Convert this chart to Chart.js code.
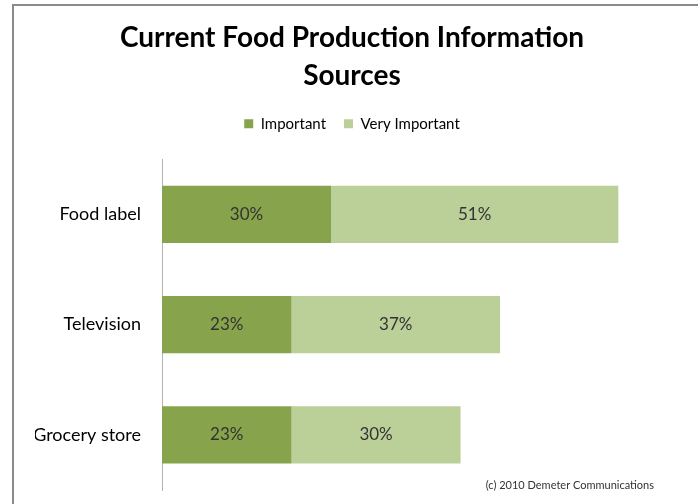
<!DOCTYPE html>
<html>
<head>
<meta charset="utf-8">
<script src="https://cdn.jsdelivr.net/npm/chart.js@4.4.0/dist/chart.umd.min.js"></script>
<style>
    html, body { margin: 0; padding: 0; background: #fff; }
    #frame {
        position: absolute; left: 12px; top: 4px; width: 800px; height: 600px;
        border-left: 2px solid #8a8a8a; border-top: 2px solid #8a8a8a;
    }
    #wrap { position: absolute; left: 0; top: 0; width: 698px; height: 504px; }
</style>
</head>
<body>
<div id="frame"></div>
<div id="wrap"><canvas id="myChart" width="698" height="504"></canvas></div>
<script>
// chart data
var categories = ["Food label", "Television", "Grocery store"];
var important = [30, 23, 23];
var veryImportant = [51, 37, 30];
var seriesNames = ["Important", "Very Important"];
var titleLines = ["Current Food Production Information", "Sources"];
var footerText = "(c) 2010 Demeter Communications";

var fontFamily = "Lato, 'Open Sans', sans-serif";

// draws the % numbers in the middle of each bar
var barLabels = {
    id: "barLabels",
    afterDatasetsDraw: function (chart) {
        var ctx = chart.ctx;
        ctx.save();
        ctx.font = "17px " + fontFamily;
        ctx.fillStyle = "#333333";
        ctx.textAlign = "center";
        ctx.textBaseline = "middle";
        chart.data.datasets.forEach(function (ds, i) {
            var meta = chart.getDatasetMeta(i);
            meta.data.forEach(function (bar, j) {
                ctx.fillText(ds.data[j] + "%", (bar.x + bar.base) / 2, bar.y);
            });
        });
        ctx.restore();
    }
};

// copyright line in the bottom right corner
var footer = {
    id: "footer",
    afterDraw: function (chart) {
        var ctx = chart.ctx;
        ctx.save();
        ctx.font = "11px " + fontFamily;
        ctx.fillStyle = "#333333";
        ctx.textAlign = "right";
        ctx.textBaseline = "middle";
        ctx.fillText(footerText, 654, 485);
        ctx.restore();
    }
};

// extra room under the legend
var legendGap = {
    id: "legendGap",
    beforeLayout: function (chart) {
        var lg = chart.legend;
        if (lg && !lg._patched) {
            var fit = lg.fit;
            lg.fit = function () {
                fit.call(this);
                this.height += 18;
            };
            lg._patched = true;
        }
    }
};

var ctx = document.getElementById("myChart").getContext("2d");
var myChart = new Chart(ctx, {
    type: "bar",
    data: {
        labels: categories,
        datasets: [{
            label: seriesNames[0],
            data: important,
            backgroundColor: "#87A44C"
        }, {
            label: seriesNames[1],
            data: veryImportant,
            backgroundColor: "#BBCF99"
        }]
    },
    options: {
        indexAxis: "y",
        responsive: false,
        animation: false,
        categoryPercentage: 1,
        barPercentage: 0.52,
        layout: { padding: { left: 35, right: 29, top: 0, bottom: 14 } },
        scales: {
            x: {
                stacked: true,
                display: false,
                min: 0,
                max: 90
            },
            y: {
                stacked: true,
                grid: { display: false },
                border: { display: true, color: "#b4b4b4", width: 1 },
                ticks: {
                    color: "#000",
                    padding: 13,
                    font: { family: fontFamily, size: 18 }
                },
                afterFit: function (scale) {
                    scale.width = 127;
                    scale.paddingTop = 0;
                    scale.paddingBottom = 0;
                }
            }
        },
        plugins: {
            title: {
                display: true,
                text: titleLines,
                color: "#000",
                font: { family: fontFamily, size: 28, weight: "bold", lineHeight: 1.36 },
                padding: { top: 19, bottom: 3 }
            },
            legend: {
                display: true,
                labels: {
                    color: "#000",
                    boxWidth: 9,
                    boxHeight: 9,
                    padding: 18,
                    font: { family: fontFamily, size: 15 }
                }
            },
            tooltip: { enabled: false }
        }
    },
    plugins: [barLabels, footer, legendGap]
});
</script>
</body>
</html>
